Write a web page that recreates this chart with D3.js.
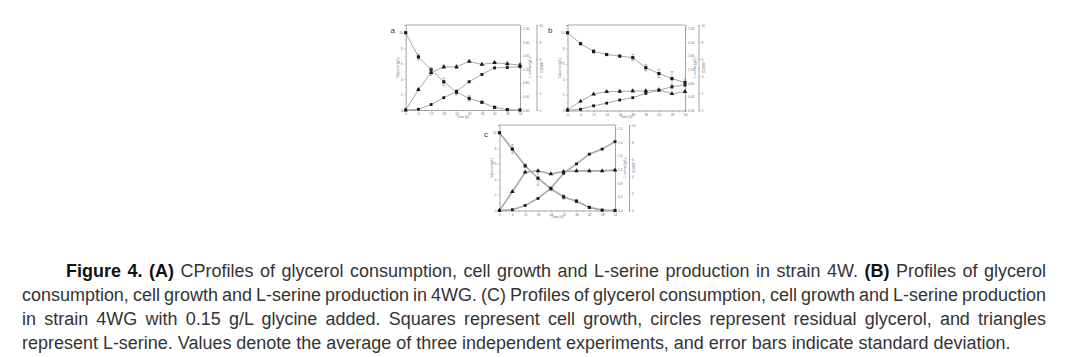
<!DOCTYPE html>
<html><head><meta charset="utf-8">
<script src="https://cdn.jsdelivr.net/npm/d3@7"></script>
<style>html,body{margin:0;padding:0;background:#fff;}svg{display:block}</style>
</head><body><svg id="chart" width="1070" height="357"></svg>
<script>
// ---------- data ----------
const times = [0, 6, 12, 18, 24, 30, 36, 42, 48, 54];
const xTicks = [0, 6, 12, 18, 24, 30, 36, 42, 48, 54];
const glyTicks = [0, 2, 4, 6, 8, 10];
const serTicks = [0, 0.4, 0.8, 1.2, 1.6, 2.0, 2.4];
const odTicks = [0, 2, 4, 6, 8, 10];
const panelLabels = ["a", "b", "c"];

// Panel a (strain 4W)
const glycerolA = [10, 6.87, 5.2, 3.65, 2.3, 1.5, 1.0, 0.35, 0.05, 0];
const glycerolErrA = [0, 0.4, 0.35, 0.5, 0.35, 0.35, 0.1, 0.1, 0, 0];
const serineA = [0, 0.60, 1.10, 1.27, 1.27, 1.43, 1.34, 1.39, 1.36, 1.32];
const serineErrA = [0, 0.03, 0.08, 0.05, 0.05, 0.02, 0.02, 0.03, 0.05, 0.05];
const odA = [0, 0.09, 0.64, 1.45, 2.18, 3.32, 4.18, 4.95, 5.0, 5.09];
const odErrA = [0, 0, 0, 0, 0.1, 0.1, 0.1, 0.1, 0.1, 0.1];

// Panel b (strain 4WG)
const glycerolB = [10, 8.6, 7.6, 7.2, 7.0, 6.8, 5.5, 4.75, 4.1, 3.6];
const glycerolErrB = [0, 0.15, 0.25, 0.1, 0.1, 0.4, 0.4, 0.5, 0.9, 0.45];
const serineB = [0.02, 0.27, 0.48, 0.55, 0.56, 0.57, 0.57, 0.60, 0.49, 0.55];
const serineErrB = [0, 0, 0, 0.02, 0.03, 0.03, 0.02, 0, 0, 0.02];
const odB = [0.05, 0.14, 0.55, 0.86, 1.23, 1.5, 2.0, 2.36, 2.77, 3.0];
const odErrB = [0, 0, 0, 0, 0, 0, 0, 0.05, 0.2, 0.2];

// Panel c (strain 4WG + 0.15 g/L glycine)
const glycerolC = [10, 7.9, 5.75, 4.15, 2.8, 1.75, 1.2, 0.4, 0.05, 0];
const glycerolErrC = [0, 0.55, 0.25, 0.9, 0.25, 0.3, 0.2, 0.1, 0, 0];
const serineC = [0, 0.55, 1.12, 1.16, 1.07, 1.14, 1.16, 1.16, 1.16, 1.18];
const serineErrC = [0, 0.02, 0.02, 0.02, 0.01, 0.01, 0.01, 0.01, 0.01, 0.01];
const odC = [0, 0.09, 0.59, 1.41, 2.59, 4.36, 5.45, 6.59, 7.18, 8.05];
const odErrC = [0, 0, 0, 0, 0.05, 0.05, 0.05, 0.05, 0.05, 0.05];

const captionLines = [
  [["Figure 4. (A)", true], [" CProfiles of glycerol consumption, cell growth and L-serine production in strain 4W. ", false], ["(B)", true], [" Profiles of glycerol", false]],
  [["consumption, cell growth and L-serine production in 4WG. (C) Profiles of glycerol consumption, cell growth and L-serine production", false]],
  [["in strain 4WG with 0.15 g/L glycine added. Squares represent cell growth, circles represent residual glycerol, and triangles", false]],
  [["represent L-serine. Values denote the average of three independent experiments, and error bars indicate standard deviation.", false]]
];

// ---------- layout ----------
const panels = [
  {label: panelLabels[0], gly: glycerolA, glyE: glycerolErrA, ser: serineA, serE: serineErrA, od: odA, odE: odErrA,
   x0: 405.7, x1: 520, y0: 25, y1: 110, ax2: 536.5, lx: 390.5, ly: 33, serFmt: d3.format(".2f"), lw: 1},
  {label: panelLabels[1], gly: glycerolB, glyE: glycerolErrB, ser: serineB, serE: serineErrB, od: odB, odE: odErrB,
   x0: 567.5, x1: 685, y0: 25, y1: 110.5, ax2: 698.5, lx: 548, ly: 33, serFmt: d3.format(".2f"), lw: 1},
  {label: panelLabels[2], gly: glycerolC, glyE: glycerolErrC, ser: serineC, serE: serineErrC, od: odC, odE: odErrC,
   x0: 499.5, x1: 615, y0: 125, y1: 210.5, ax2: 629, lx: 484, ly: 137, serFmt: d3.format(".1f"), lw: 1.6}
];

const svg = d3.select("#chart");
const axisCol = "#808080", textCol = "#707070", lineCol = "#a8a8a8", markCol = "#1a1a1a";
const tf = "Arial, 'Liberation Sans', sans-serif";

function styleAxis(g) {
  g.select(".domain").attr("stroke", axisCol).attr("stroke-width", 0.7);
  g.selectAll(".tick line").attr("stroke", axisCol).attr("stroke-width", 0.5);
  g.selectAll(".tick text").attr("fill", textCol).attr("font-size", 3.2).attr("font-family", tf);
}

panels.forEach(p => {
  const g = svg.append("g");
  const x = d3.scaleLinear().domain([0, 54]).range([p.x0, p.x1]);
  const yG = d3.scaleLinear().domain([0, 11]).range([p.y1, p.y0]);
  const yS = d3.scaleLinear().domain([0, 2.5]).range([p.y1, p.y0]);
  const yO = d3.scaleLinear().domain([0, 10]).range([p.y1, p.y0]);

  g.append("line").attr("x1", p.x0).attr("x2", p.x1).attr("y1", p.y0).attr("y2", p.y0)
    .attr("stroke", axisCol).attr("stroke-width", 0.7);

  const bx = g.append("g").attr("transform", `translate(0,${p.y1})`)
    .call(d3.axisBottom(x).tickValues(xTicks).tickSize(1.5).tickPadding(1.5).tickFormat(d3.format("d")));
  styleAxis(bx);
  const bxm = g.append("g").attr("transform", `translate(0,${p.y1})`)
    .call(d3.axisBottom(x).tickValues(d3.range(3, 54, 6)).tickSize(1).tickFormat(""));
  styleAxis(bxm); bxm.select(".domain").remove();

  const ly = g.append("g").attr("transform", `translate(${p.x0},0)`)
    .call(d3.axisLeft(yG).tickValues(glyTicks).tickSize(1.5).tickPadding(1.5).tickFormat(d3.format("d")));
  styleAxis(ly);
  const lym = g.append("g").attr("transform", `translate(${p.x0},0)`)
    .call(d3.axisLeft(yG).tickValues(d3.range(1, 11, 2)).tickSize(1).tickFormat(""));
  styleAxis(lym); lym.select(".domain").remove();

  const ry = g.append("g").attr("transform", `translate(${p.x1},0)`)
    .call(d3.axisRight(yS).tickValues(serTicks).tickSize(1.5).tickPadding(1.5).tickFormat(p.serFmt));
  styleAxis(ry);
  const rym = g.append("g").attr("transform", `translate(${p.x1},0)`)
    .call(d3.axisRight(yS).tickValues(d3.range(0.2, 2.5, 0.4)).tickSize(1).tickFormat(""));
  styleAxis(rym); rym.select(".domain").remove();

  const r2 = g.append("g").attr("transform", `translate(${p.ax2},0)`)
    .call(d3.axisRight(yO).tickValues(odTicks).tickSize(1.5).tickPadding(1.5).tickFormat(d3.format("d")));
  styleAxis(r2);
  const r2m = g.append("g").attr("transform", `translate(${p.ax2},0)`)
    .call(d3.axisRight(yO).tickValues(d3.range(1, 10, 2)).tickSize(1).tickFormat(""));
  styleAxis(r2m); r2m.select(".domain").remove();

  const midY = (p.y0 + p.y1) / 2;
  g.append("text").text("Glycerol (g/L)").attr("transform", `translate(${p.x0 - 7},${midY}) rotate(-90)`)
    .attr("text-anchor", "middle").attr("font-size", 3.4).attr("fill", textCol).attr("font-family", tf);
  g.append("text").text("L-serine (g/L)").attr("transform", `translate(${p.x1 + 11},${midY}) rotate(-90)`)
    .attr("text-anchor", "middle").attr("font-size", 3.4).attr("fill", textCol).attr("font-family", tf);
  g.append("text").text("OD600").attr("transform", `translate(${p.ax2 + 6},${midY}) rotate(-90)`)
    .attr("text-anchor", "middle").attr("font-size", 3.4).attr("fill", textCol).attr("font-family", tf);
  g.append("text").text("Time (h)").attr("x", (p.x0 + p.x1) / 2).attr("y", p.y1 + 7.5)
    .attr("text-anchor", "middle").attr("font-size", 3.4).attr("fill", textCol).attr("font-family", tf);

  g.append("text").text(p.label).attr("x", p.lx).attr("y", p.ly).attr("font-size", 8)
    .attr("fill", "#333").attr("font-family", tf);

  const series = [
    {v: p.gly, e: p.glyE, y: yG, shape: d3.symbolSquare, size: 10},
    {v: p.ser, e: p.serE, y: yS, shape: d3.symbolTriangle, size: 9},
    {v: p.od, e: p.odE, y: yO, shape: d3.symbolSquare, size: 8}
  ];
  series.forEach(s => {
    const pts = times.map((t, i) => ({t, v: s.v[i], e: s.e[i]}));
    g.append("path").datum(pts)
      .attr("d", d3.line().x(d => x(d.t)).y(d => s.y(d.v)))
      .attr("fill", "none").attr("stroke", lineCol).attr("stroke-width", p.lw);
    const eb = g.append("g").selectAll("g").data(pts.filter(d => d.e > 0)).join("g").attr("stroke", "#777").attr("stroke-width", 0.5);
    eb.append("line").attr("x1", d => x(d.t)).attr("x2", d => x(d.t))
      .attr("y1", d => s.y(d.v - d.e)).attr("y2", d => s.y(d.v + d.e));
    eb.append("line").attr("x1", d => x(d.t) - 1.5).attr("x2", d => x(d.t) + 1.5)
      .attr("y1", d => s.y(d.v - d.e)).attr("y2", d => s.y(d.v - d.e));
    eb.append("line").attr("x1", d => x(d.t) - 1.5).attr("x2", d => x(d.t) + 1.5)
      .attr("y1", d => s.y(d.v + d.e)).attr("y2", d => s.y(d.v + d.e));
    g.append("g").selectAll("path").data(pts).join("path")
      .attr("transform", d => `translate(${x(d.t)},${s.y(d.v)})`)
      .attr("d", d3.symbol().type(s.shape).size(s.size)).attr("fill", markCol);
  });
});

// ---------- caption ----------
const capFont = "'Liberation Sans', Arial, sans-serif";
const capX = [66, 22, 22, 22];
const capRight = 1046;
const capBase = [276.5, 300.5, 324.5, 348.5];
const justify = [true, true, true, false];
const capSize = 19;
const cap = svg.append("g").attr("fill", "#333").attr("font-family", capFont);

// horizontal condensing so the last line spans ~989px (narrow journal face)
const probe = cap.append("text").attr("font-size", capSize).text(captionLines[3][0][0]);
const natural = probe.node().getComputedTextLength();
probe.remove();
const sx = 989 / natural;

captionLines.forEach((segs, i) => {
  const t = cap.append("text").attr("x", 0).attr("y", 0).attr("font-size", capSize)
    .attr("transform", `translate(${capX[i]},${capBase[i]}) scale(${sx},1)`);
  segs.forEach(([s, b]) => {
    t.append("tspan").text(s).attr("font-weight", b ? "bold" : "normal").attr("fill", b ? "#111" : null);
  });
  if (justify[i]) {
    const w = t.node().getComputedTextLength();
    const full = segs.map(d => d[0]).join("");
    const spaces = (full.match(/ /g) || []).length;
    const ws = ((capRight - capX[i]) / sx - w) / spaces;
    t.attr("word-spacing", ws);
  }
});
</script>
</body></html>
